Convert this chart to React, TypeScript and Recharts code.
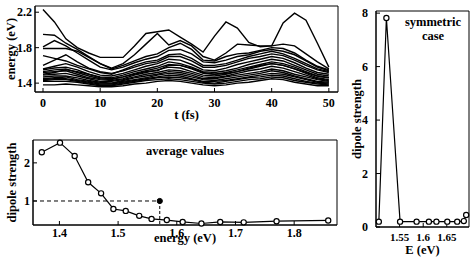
import React from "react";
import { LineChart, Line, XAxis, YAxis, ReferenceArea, ReferenceLine, ReferenceDot } from "recharts";

// top panel: level energies vs time
const times = [0, 2, 4, 6, 8, 10, 12, 14, 16, 18, 20, 22, 24, 26, 28, 30, 32, 34, 36, 38, 40, 42, 44, 46, 48, 50];
const lvlA = [2.23, 2.09, 1.9, 1.8, 1.74, 1.69, 1.69, 1.69, 1.82, 1.96, 1.98, 2.0, 1.92, 1.84, 1.75, 1.93, 2.09, 2.02, 1.86, 1.81, 1.82, 2.08, 2.19, 2.11, 1.85, 1.58];
const lvlB = [1.79, 1.79, 1.79, 1.76, 1.69, 1.62, 1.57, 1.62, 1.72, 1.84, 1.96, 1.83, 1.88, 1.82, 1.7, 1.66, 1.74, 1.84, 1.83, 1.82, 1.82, 1.84, 1.82, 1.73, 1.64, 1.56];
const lvlC = [1.95, 1.94, 1.85, 1.78, 1.7, 1.62, 1.56, 1.6, 1.65, 1.7, 1.73, 1.8, 1.85, 1.78, 1.66, 1.65, 1.7, 1.73, 1.74, 1.77, 1.8, 1.79, 1.74, 1.66, 1.59, 1.55];
const lvlD = [1.81, 1.88, 1.82, 1.74, 1.66, 1.58, 1.55, 1.58, 1.63, 1.67, 1.7, 1.77, 1.78, 1.73, 1.64, 1.63, 1.66, 1.7, 1.72, 1.76, 1.78, 1.76, 1.72, 1.65, 1.58, 1.54];
const lvlE = [1.71, 1.68, 1.65, 1.6, 1.56, 1.52, 1.5, 1.55, 1.6, 1.64, 1.66, 1.72, 1.73, 1.68, 1.6, 1.6, 1.62, 1.66, 1.7, 1.73, 1.76, 1.73, 1.68, 1.62, 1.56, 1.53];
const lvlF = [1.6, 1.66, 1.72, 1.64, 1.57, 1.53, 1.51, 1.54, 1.58, 1.62, 1.64, 1.7, 1.7, 1.65, 1.58, 1.58, 1.6, 1.64, 1.68, 1.7, 1.73, 1.71, 1.66, 1.6, 1.55, 1.52];
const lvlG = [1.56, 1.59, 1.62, 1.58, 1.53, 1.49, 1.48, 1.51, 1.55, 1.59, 1.62, 1.67, 1.66, 1.61, 1.55, 1.54, 1.57, 1.61, 1.64, 1.67, 1.7, 1.68, 1.63, 1.57, 1.52, 1.5];
const lvlH = [1.55, 1.57, 1.58, 1.55, 1.5, 1.47, 1.46, 1.49, 1.53, 1.56, 1.59, 1.64, 1.62, 1.58, 1.53, 1.52, 1.54, 1.57, 1.61, 1.64, 1.67, 1.65, 1.6, 1.55, 1.5, 1.48];
const lvlI = [1.53, 1.55, 1.56, 1.52, 1.48, 1.45, 1.44, 1.47, 1.51, 1.54, 1.57, 1.61, 1.6, 1.56, 1.51, 1.5, 1.52, 1.55, 1.58, 1.61, 1.64, 1.62, 1.58, 1.53, 1.48, 1.46];
const lvlR = [1.5, 1.52, 1.55, 1.53, 1.5, 1.46, 1.45, 1.47, 1.5, 1.53, 1.54, 1.6, 1.6, 1.57, 1.52, 1.5, 1.51, 1.53, 1.57, 1.6, 1.62, 1.6, 1.56, 1.52, 1.48, 1.46];
const lvlJ = [1.52, 1.53, 1.54, 1.5, 1.46, 1.44, 1.43, 1.45, 1.49, 1.52, 1.55, 1.58, 1.57, 1.53, 1.49, 1.48, 1.5, 1.53, 1.56, 1.59, 1.62, 1.6, 1.56, 1.51, 1.46, 1.44];
const lvlK = [1.49, 1.5, 1.51, 1.48, 1.45, 1.42, 1.42, 1.44, 1.47, 1.5, 1.52, 1.55, 1.54, 1.51, 1.47, 1.46, 1.48, 1.51, 1.54, 1.56, 1.59, 1.57, 1.53, 1.49, 1.45, 1.43];
const lvlL = [1.47, 1.48, 1.48, 1.46, 1.43, 1.41, 1.4, 1.43, 1.46, 1.48, 1.5, 1.53, 1.52, 1.49, 1.45, 1.45, 1.47, 1.49, 1.51, 1.53, 1.56, 1.54, 1.5, 1.47, 1.44, 1.42];
const lvlM = [1.45, 1.46, 1.47, 1.44, 1.42, 1.4, 1.4, 1.42, 1.44, 1.46, 1.49, 1.51, 1.5, 1.47, 1.44, 1.43, 1.45, 1.47, 1.49, 1.51, 1.54, 1.52, 1.48, 1.45, 1.42, 1.41];
const lvlN = [1.44, 1.45, 1.45, 1.43, 1.41, 1.39, 1.39, 1.41, 1.43, 1.45, 1.47, 1.49, 1.48, 1.45, 1.42, 1.42, 1.43, 1.45, 1.47, 1.49, 1.51, 1.5, 1.47, 1.44, 1.41, 1.4];
const lvlO = [1.43, 1.44, 1.44, 1.42, 1.4, 1.38, 1.38, 1.4, 1.42, 1.44, 1.46, 1.47, 1.46, 1.44, 1.41, 1.4, 1.42, 1.44, 1.46, 1.47, 1.49, 1.48, 1.45, 1.42, 1.4, 1.39];
const lvlP = [1.42, 1.42, 1.42, 1.41, 1.39, 1.37, 1.37, 1.39, 1.41, 1.43, 1.44, 1.45, 1.44, 1.42, 1.4, 1.39, 1.4, 1.42, 1.44, 1.45, 1.47, 1.46, 1.43, 1.41, 1.39, 1.38];
const lvlQ = [1.38, 1.38, 1.39, 1.38, 1.37, 1.36, 1.36, 1.37, 1.39, 1.4, 1.42, 1.43, 1.42, 1.4, 1.38, 1.37, 1.38, 1.4, 1.41, 1.43, 1.45, 1.44, 1.41, 1.39, 1.37, 1.37];
const levels = [lvlA, lvlB, lvlC, lvlD, lvlE, lvlF, lvlG, lvlH, lvlI, lvlR, lvlJ, lvlK, lvlL, lvlM, lvlN, lvlO, lvlP, lvlQ];
const timeTicks = [0, 10, 20, 30, 40, 50];
const energyTicks = [1.4, 1.6, 1.8, 2.0, 2.2];

// bottom-left panel: average values
const avgEnergy = [1.37, 1.401, 1.426, 1.449, 1.471, 1.492, 1.513, 1.536, 1.557, 1.583, 1.61, 1.642, 1.674, 1.714, 1.77, 1.858];
const avgStrength = [2.28, 2.53, 2.18, 1.49, 1.2, 0.79, 0.74, 0.61, 0.53, 0.5, 0.45, 0.41, 0.45, 0.44, 0.47, 0.49];
const avgXTicks = [1.4, 1.5, 1.6, 1.7, 1.8];
const avgYTicks = [1, 2];
const markE = 1.571;
const markS = 1.0;

// right panel: symmetric case
const symEnergy = [1.506, 1.522, 1.551, 1.586, 1.612, 1.628, 1.651, 1.672, 1.686, 1.691];
const symStrength = [0.2, 7.82, 0.2, 0.2, 0.2, 0.2, 0.2, 0.2, 0.22, 0.45];
const symXTicks = [1.55, 1.6, 1.65];
const symYTicks = [0, 2, 4, 6, 8];

const levelRows = times.map((t, i) => {
  const row: Record<string, number> = { t };
  levels.forEach((l, k) => (row["l" + k] = l[i]));
  return row;
});
const avgRows = avgEnergy.map((e, i) => ({ e, s: avgStrength[i] }));
const symRows = symEnergy.map((e, i) => ({ e, s: symStrength[i] }));

const font = "'Liberation Serif', 'Times New Roman', serif";
const tickStyle = { fontFamily: font, fontWeight: 700, fontSize: 12, fill: "#000" };
const smallTick = { ...tickStyle, fontSize: 11 };
const titleStyle = { fontFamily: font, fontWeight: 700, fontSize: 12.5, fill: "#000", textAnchor: "middle" as const };
const axisLine = { stroke: "#000", strokeWidth: 1 };
const openDot = { r: 2.6, fill: "#fff", stroke: "#000", strokeWidth: 1.2 };

const tDom: [number, number] = [-1.4, 51.6];
const eDom: [number, number] = [1.3, 2.27];
const aXDom: [number, number] = [1.355, 1.873];
const aYDom: [number, number] = [0.37, 2.6];
const sXDom: [number, number] = [1.5, 1.697];
const sYDom: [number, number] = [0, 8.08];

export default function App() {
  return (
    <div style={{ position: "absolute", left: 0, top: 0, width: 471, height: 259, background: "#fff" }}>
      <div style={{ position: "absolute", left: 0, top: 0 }}>
        <LineChart width={345} height={122} data={levelRows} margin={{ top: 6, right: 7, left: 0, bottom: 0 }}>
          <XAxis dataKey="t" type="number" domain={tDom} ticks={timeTicks} axisLine={axisLine} tickLine={axisLine}
            tickSize={-4} tickMargin={10} tick={tickStyle} height={30}
            label={{ value: "t (fs)", position: "insideBottom", offset: 3, style: titleStyle }} />
          <YAxis type="number" domain={eDom} ticks={energyTicks} axisLine={axisLine} tickLine={axisLine}
            tickSize={-4} tickMargin={7} tick={tickStyle} width={35} tickFormatter={(v: number) => v.toFixed(1)}
            label={{ value: "energy (eV)", angle: -90, position: "insideLeft", offset: 11, style: titleStyle }} />
          <ReferenceArea x1={tDom[0]} x2={tDom[1]} y1={eDom[0]} y2={eDom[1]} fill="none" stroke="#000" strokeWidth={1} />
          {levels.map((_, k) => (
            <Line key={k} dataKey={"l" + k} type="linear" stroke="#000" strokeWidth={1.4} dot={false} isAnimationActive={false} />
          ))}
        </LineChart>
      </div>

      <div style={{ position: "absolute", left: 0, top: 130 }}>
        <LineChart width={345} height={116} data={avgRows} margin={{ top: 10, right: 8, left: 0, bottom: 0 }}>
          <XAxis dataKey="e" type="number" domain={aXDom} ticks={avgXTicks} axisLine={axisLine} tickLine={axisLine}
            tickSize={-4} tickMargin={7} tick={tickStyle} height={21} tickFormatter={(v: number) => v.toFixed(1)}
            label={{ value: "energy (eV)", position: "insideBottom", offset: 4, style: titleStyle }} />
          <YAxis type="number" domain={aYDom} ticks={avgYTicks} axisLine={axisLine} tickLine={axisLine}
            tickSize={-4} tickMargin={7} tick={tickStyle} width={33}
            label={{ value: "dipole strength", angle: -90, position: "insideLeft", offset: 12, style: titleStyle }} />
          <ReferenceArea x1={aXDom[0]} x2={aXDom[1]} y1={aYDom[0]} y2={aYDom[1]} fill="none" stroke="#000" strokeWidth={1} />
          <ReferenceLine segment={[{ x: aXDom[0], y: markS }, { x: markE, y: markS }]} stroke="#000" strokeDasharray="4 3" />
          <ReferenceLine segment={[{ x: markE, y: markS }, { x: markE, y: aYDom[0] }]} stroke="#000" strokeDasharray="3 2" />
          <ReferenceDot x={markE} y={markS} r={2.6} fill="#000" stroke="#000" />
          <Line dataKey="s" type="linear" stroke="#000" strokeWidth={1.2} dot={openDot} isAnimationActive={false} />
        </LineChart>
      </div>

      <div style={{ position: "absolute", left: 346, top: 0 }}>
        <LineChart width={125} height={259} data={symRows} margin={{ top: 11, right: 2, left: 0, bottom: 0 }}>
          <XAxis dataKey="e" type="number" domain={sXDom} ticks={symXTicks} axisLine={axisLine} tickLine={axisLine}
            tickSize={-4} tickMargin={10} tick={smallTick} height={32}
            label={{ value: "E (eV)", position: "insideBottom", offset: 5, style: titleStyle }} />
          <YAxis type="number" domain={sYDom} ticks={symYTicks} axisLine={axisLine} tickLine={axisLine}
            tickSize={-4} tickMargin={12} tick={tickStyle} width={30}
            label={{ value: "dipole strength", angle: -90, position: "insideLeft", offset: 11, style: titleStyle }} />
          <ReferenceArea x1={sXDom[0]} x2={sXDom[1]} y1={sYDom[0]} y2={sYDom[1]} fill="none" stroke="#000" strokeWidth={1} />
          <Line dataKey="s" type="linear" stroke="#000" strokeWidth={1.2} dot={openDot} isAnimationActive={false} />
        </LineChart>
      </div>

      <div style={{ position: "absolute", left: 135, top: 144, width: 100, textAlign: "center", font: `700 12.5px ${font}` }}>
        average values
      </div>
      <div style={{ position: "absolute", left: 403, top: 15, width: 60, textAlign: "center", font: `700 12.5px ${font}`, lineHeight: "14px" }}>
        symmetric<br />case
      </div>
    </div>
  );
}
